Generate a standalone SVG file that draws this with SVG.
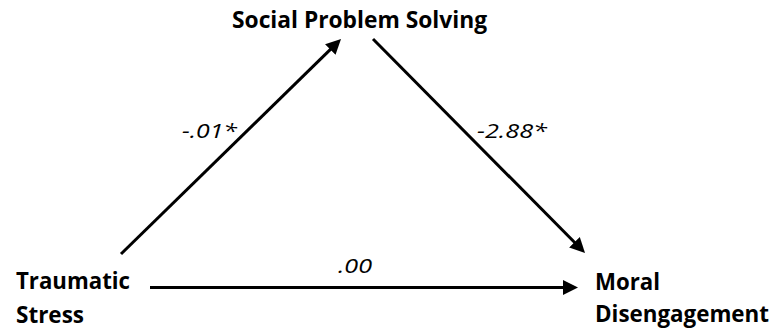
<svg xmlns="http://www.w3.org/2000/svg" width="775" height="333" viewBox="0 0 775 333">
<style>
.node{font-family:"Open Sans","Liberation Sans",sans-serif;font-weight:bold;font-size:23px;fill:#000}
.lbl{font-family:"Open Sans","Liberation Sans",sans-serif;font-style:italic;font-size:20px;fill:#000}
.conn{stroke:#000;stroke-width:3;fill:none;marker-end:url(#ah)}
</style>
<defs>
<marker id="ah" markerUnits="userSpaceOnUse" markerWidth="16" markerHeight="16" viewBox="0 0 16 16" refX="7" refY="8" orient="auto">
<path d="M0,0.5 L15,8 L0,15.5 z" fill="#000"/>
</marker>
</defs>
<rect width="775" height="333" fill="#fff"/>
<g id="connectors">
<line class="conn" x1="121" y1="254" x2="335.3" y2="44.6"/>
<line class="conn" x1="373" y1="39" x2="579.4" y2="247.3"/>
<line class="conn" x1="150" y1="287.5" x2="570" y2="287.5"/>
<text class="lbl" x="182" y="138" textLength="55" lengthAdjust="spacingAndGlyphs">-.01*</text>
<text class="lbl" x="477" y="138" textLength="70" lengthAdjust="spacingAndGlyphs">-2.88*</text>
<text class="lbl" x="338" y="273" textLength="34" lengthAdjust="spacingAndGlyphs">.00</text>
</g>
<g id="social-problem-solving">
<text class="node" x="232" y="28" textLength="255" lengthAdjust="spacingAndGlyphs">Social Problem Solving</text>
</g>
<g id="traumatic-stress">
<text class="node" x="16" y="289" textLength="114" lengthAdjust="spacingAndGlyphs">Traumatic</text>
<text class="node" x="16" y="323" textLength="68" lengthAdjust="spacingAndGlyphs">Stress</text>
</g>
<g id="moral-disengagement">
<text class="node" x="595" y="290" textLength="65" lengthAdjust="spacingAndGlyphs">Moral</text>
<text class="node" x="595" y="322" textLength="174" lengthAdjust="spacingAndGlyphs">Disengagement</text>
</g>
</svg>
